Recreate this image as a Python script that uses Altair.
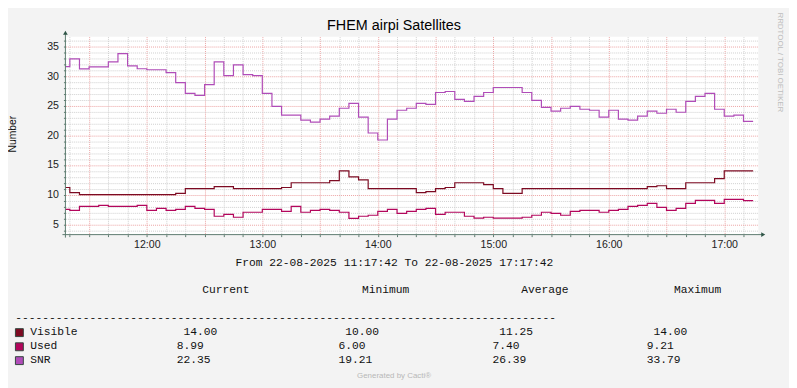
import altair as alt
import pandas as pd

# ---- data (time axis in minutes after 11:00; 11:17:42 .. 17:17:42) ----
START_MIN = 17.7
END_MIN = 377.7
STEP_MIN = 5

visible = [11.2, 10.35, 10.0, 10.0, 10.0, 10.0, 10.0, 10.0, 10.0, 10.0,
           10.0, 10.0, 10.2, 11.0, 11.0, 11.0, 11.35, 11.35, 11.0, 11.0,
           11.0, 11.0, 11.0, 11.2, 12.0, 12.0, 12.0, 12.0, 12.35, 14.0,
           13.0, 12.5, 11.0, 11.0, 11.0, 11.0, 11.0, 10.35, 10.5, 11.0,
           11.2, 12.0, 12.0, 12.0, 11.7, 11.0, 10.2, 10.2, 11.0, 11.0,
           11.0, 11.0, 11.0, 11.0, 11.0, 11.0, 11.0, 11.0, 11.0, 11.0,
           11.0, 11.35, 11.5, 11.0, 11.0, 12.0, 12.0, 12.0, 12.7, 14.0,
           14.0, 14.0]

used = [7.52, 7.35, 8.02, 8.02, 8.18, 8.02, 8.02, 8.02, 8.18, 7.35,
        7.68, 7.35, 7.52, 8.02, 7.68, 7.52, 6.35, 6.68, 6.18, 7.02,
        7.02, 7.52, 7.52, 7.18, 8.02, 7.02, 7.35, 7.52, 7.35, 7.02,
        6.0, 6.35, 6.52, 7.18, 7.52, 6.85, 7.18, 7.52, 7.68, 6.68,
        7.02, 7.02, 6.35, 6.02, 6.18, 6.02, 6.02, 6.02, 6.18, 6.52,
        7.02, 6.85, 6.52, 7.18, 7.35, 7.35, 7.02, 7.35, 7.52, 8.02,
        8.18, 8.52, 7.85, 7.35, 7.68, 8.52, 9.02, 9.02, 8.52, 9.21,
        9.21, 8.99]

snr = [31.6, 32.9, 31.2, 31.55, 31.55, 32.4, 33.79, 31.73, 31.23, 31.07,
       31.07, 30.57, 28.9, 27.07, 26.73, 28.57, 32.4, 30.07, 31.9, 30.23,
       30.07, 27.07, 24.9, 23.4, 23.4, 22.57, 22.23, 22.73, 23.23, 24.57,
       25.4, 23.07, 20.4, 19.21, 22.73, 24.23, 24.57, 25.4, 25.23, 27.23,
       27.4, 26.07, 25.73, 26.57, 27.23, 28.07, 28.07, 28.07, 27.23, 25.9,
       24.73, 24.07, 24.57, 24.9, 24.4, 24.23, 23.07, 24.23, 22.73, 22.57,
       23.23, 24.07, 23.73, 24.4, 23.9, 25.73, 26.57, 27.07, 24.4, 23.23,
       23.4, 22.35]

series_names = ["Visible", "Used", "SNR"]
series_colors = ["#7d0a22", "#b3065c", "#b04cb8"]

hour_values = [60, 120, 180, 240, 300, 360]
hour_labels = ["12:00", "13:00", "14:00", "15:00", "16:00", "17:00"]

stat_headers = ["Current", "Minimum", "Average", "Maximum"]
stat_current = ["14.00", "8.99", "22.35"]
stat_minimum = ["10.00", "6.00", "19.21"]
stat_average = ["11.25", "7.40", "26.39"]
stat_maximum = ["14.00", "9.21", "33.79"]

title_text = "FHEM airpi Satellites"
range_text = "From 22-08-2025 11:17:42 To 22-08-2025 17:17:42"

# ---- build step table ----
n = len(snr)
times = [START_MIN] + [15 + STEP_MIN * k for k in range(1, n)] + [15 + STEP_MIN * n]
rows = []
for name, vals in zip(series_names, [visible, used, snr]):
    ext = vals + [vals[-1]]
    for t, v in zip(times, ext):
        rows.append({"t": t, "value": v, "series": name})
df = pd.DataFrame(rows)

MAJOR = "#eca3a3"
MINOR = "#cfcfcf"
AXIS = "#5c7a6e"
ARROW = "#2e5446"
SANS = "Liberation Sans"
MONO = "Liberation Mono"

x_label_expr = " : ".join(
    f"datum.value === {v} ? '{l}'" for v, l in zip(hour_values, hour_labels)
) + " : ''"

x_axis = alt.Axis(
    values=list(range(20, 377, 10)),
    labelExpr=x_label_expr,
    grid=True,
    gridColor={"condition": {"test": "datum.value % 30 === 0", "value": MAJOR}, "value": MINOR},
    gridDash=[1, 1],
    domain=False,
    ticks=True, tickSize=2, tickColor=AXIS,
    labelPadding=3, labelFont=SANS, labelFontSize=10.7, labelColor="#222",
    labelOverlap=False, labelFlush=False, title=None,
)
y_axis = alt.Axis(
    values=list(range(4, 37)),
    labelExpr="datum.value % 5 === 0 ? datum.label : ''",
    grid=True,
    gridColor={"condition": {"test": "datum.value % 5 === 0", "value": MAJOR}, "value": MINOR},
    gridDash=[1, 1],
    domain=False,
    ticks=True, tickSize=2, tickColor=AXIS,
    labelPadding=5, labelFont=SANS, labelFontSize=10.7, labelColor="#222",
    labelOverlap=False, labelFlush=False, title=None,
)

lines = alt.Chart(df).mark_line(interpolate="step-after", strokeWidth=1.2).encode(
    x=alt.X("t:Q", scale=alt.Scale(domain=[START_MIN, END_MIN], nice=False, zero=False), axis=x_axis),
    y=alt.Y("value:Q", scale=alt.Scale(domain=[3.25, 36.65], nice=False, zero=False), axis=y_axis),
    color=alt.Color("series:N", scale=alt.Scale(domain=series_names, range=series_colors), legend=None),
    detail="series:N",
)

one = pd.DataFrame({"a": [0]})
y_rule = alt.Chart(one).mark_rule(color=AXIS, strokeWidth=1).encode(
    x=alt.value(0), y=alt.value(203), y2=alt.value(-3))
x_rule = alt.Chart(one).mark_rule(color=AXIS, strokeWidth=1).encode(
    y=alt.value(200), x=alt.value(-3), x2=alt.value(704))
up_arrow = alt.Chart(one).mark_point(shape="triangle-up", filled=True, size=22, color=ARROW, opacity=1).encode(
    x=alt.value(0), y=alt.value(-4))
right_arrow = alt.Chart(one).mark_point(shape="triangle-right", filled=True, size=22, color=ARROW, opacity=1).encode(
    x=alt.value(705), y=alt.value(200))


def label(text, x, y, font=SANS, size=11, color="#000", align="left", baseline="alphabetic", angle=0):
    return alt.Chart(pd.DataFrame({"t": [text]})).mark_text(
        font=font, fontSize=size, color=color, align=align, baseline=baseline, angle=angle
    ).encode(text="t:N", x=alt.value(x), y=alt.value(y))


texts = [
    label(title_text, 332, -6.3, size=14.5, align="center"),
    label("Number", -49.5, 98.5, size=10.5, align="center", angle=270, color="#111"),
    label("RRDTOOL / TOBI OETIKER", 721.5, 26, size=8.0, color="#bdbdbd", align="center",
          baseline="middle", angle=90),
    label(range_text, 332.3, 231.5, font=MONO, size=11.4, align="center", color="#111"),
    label("-" * 80, -50.7, 286.8, font=MONO, size=11.4, color="#111"),
    label("Generated by Cacti\u00ae", 332, 344.5, size=8, align="center", color="#b8b8b8"),
]

header_x = [138.2, 299.5, 460.5, 614.7]
for h, hx in zip(stat_headers, header_x):
    texts.append(label(h, hx, 259.3, font=MONO, size=11.4, color="#111"))

row_y = [301, 315.3, 329.3]
square_y = [299, 313.3, 327.3]
col_x = [112.5, 275.9, 431.5, 587.2]
char_w = 6.84
for i, name in enumerate(series_names):
    indent = char_w if name == "Visible" else 0
    texts.append(
        alt.Chart(one).mark_square(size=64, fill=series_colors[i], stroke="#34463f",
                                   strokeWidth=1, opacity=1).encode(
            x=alt.value(-46.5), y=alt.value(square_y[i]))
    )
    texts.append(label(name, -35.6, row_y[i], font=MONO, size=11.4, color="#111"))
    for cx, col in zip(col_x, [stat_current, stat_minimum, stat_average, stat_maximum]):
        texts.append(label(col[i], cx + indent, row_y[i], font=MONO, size=11.4, color="#111"))

chart = alt.layer(lines, y_rule, x_rule, up_arrow, right_arrow, *texts).properties(
    width=700, height=200,
    autosize=alt.AutoSizeParams(type="none"),
    padding={"left": 58, "top": 27, "right": 31, "bottom": 153},
).configure(background="#f3f3f3").configure_view(stroke=None, fill="white")

chart.save("out.html", embed_options={"renderer": "svg", "actions": False})
